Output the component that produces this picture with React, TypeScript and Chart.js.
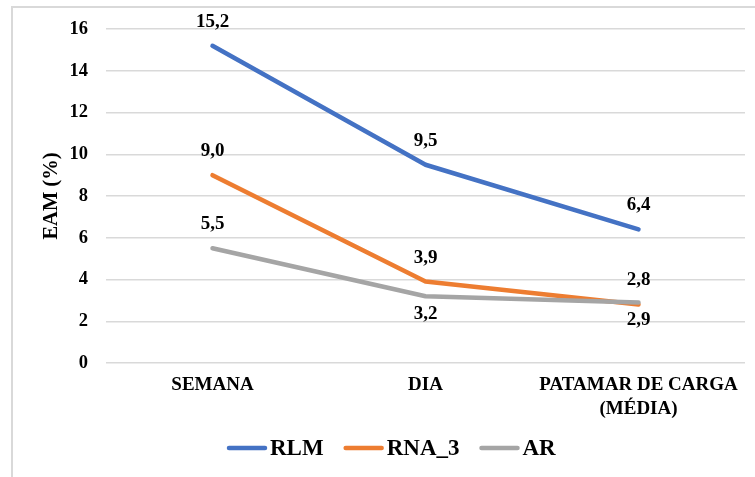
import React, { useEffect, useRef } from "react";
import { Chart, registerables } from "chart.js";

Chart.register(...registerables);

const categories: (string | string[])[] = ["SEMANA", "DIA", ["PATAMAR DE CARGA", "(MÉDIA)"]];
const seriesNames = ["RLM", "RNA_3", "AR"];
const rlm = [15.2, 9.5, 6.4];
const rna3 = [9.0, 3.9, 2.8];
const ar = [5.5, 3.2, 2.9];
const colors = ["#4472C4", "#ED7D31", "#A5A5A5"];
// label placement per point: "above" or "below"
const labelPos = [
  ["above", "above", "above"],
  ["above", "above", "above"],
  ["above", "below", "below"],
];
const yTitle = "EAM (%)";
const FONT = '"Liberation Serif", "Times New Roman", serif';

const fmt = (v: number) => v.toFixed(1).replace(".", ",");

const decorPlugin = {
  id: "decor",
  beforeDraw(chart: any) {
    const ctx = chart.ctx;
    ctx.save();
    ctx.fillStyle = "#ffffff";
    ctx.fillRect(0, 0, chart.width, chart.height);
    ctx.strokeStyle = "#d9d9d9";
    ctx.lineWidth = 2;
    ctx.strokeRect(12, 7, chart.width + 50, chart.height + 50);
    ctx.restore();
  },
  afterDatasetsDraw(chart: any) {
    const ctx = chart.ctx;
    ctx.save();
    ctx.font = `bold 19px ${FONT}`;
    ctx.fillStyle = "#000000";
    ctx.textAlign = "center";
    ctx.textBaseline = "middle";
    chart.data.datasets.forEach((ds: any, di: number) => {
      const meta = chart.getDatasetMeta(di);
      meta.data.forEach((pt: any, i: number) => {
        const pos = labelPos[di][i];
        const dy = pos === "above" ? -24 : 18;
        ctx.fillText(fmt(ds.data[i]), pt.x, pt.y + dy);
      });
    });
    ctx.restore();
  },
  afterDraw(chart: any) {
    const ctx = chart.ctx;
    ctx.save();
    ctx.font = `bold 23px ${FONT}`;
    ctx.textBaseline = "middle";
    ctx.textAlign = "left";
    const lineW = 40;
    const gapLT = 3;
    const gapItems = 20;
    const widths = seriesNames.map((n) => ctx.measureText(n).width);
    let x = 227;
    const y = 448;
    seriesNames.forEach((n, i) => {
      ctx.strokeStyle = colors[i];
      ctx.lineWidth = 4.5;
      ctx.lineCap = "round";
      ctx.beginPath();
      ctx.moveTo(x + 2, y);
      ctx.lineTo(x + lineW - 2, y);
      ctx.stroke();
      x += lineW + gapLT;
      ctx.fillStyle = "#000000";
      ctx.fillText(n, x, y + 1);
      x += widths[i] + gapItems;
    });
    ctx.restore();
  },
};

export default function App() {
  const ref = useRef<HTMLCanvasElement | null>(null);
  useEffect(() => {
    if (!ref.current) return;
    const series = [rlm, rna3, ar];
    const chart = new Chart(ref.current, {
      type: "line",
      data: {
        labels: categories,
        datasets: series.map((d, i) => ({
          label: seriesNames[i],
          data: d,
          borderColor: colors[i],
          backgroundColor: colors[i],
          borderWidth: 4.5,
          borderCapStyle: "round",
          borderJoinStyle: "round",
          pointRadius: 0,
          tension: 0,
          fill: false,
          order: 2 - i,
        })),
      },
      options: {
        responsive: false,
        animation: false,
        devicePixelRatio: 1,
        layout: { padding: { left: 0, top: 28.5, right: 10, bottom: 0 } },
        plugins: {
          legend: { display: false },
          tooltip: { enabled: false },
        },
        scales: {
          x: {
            type: "category",
            offset: true,
            grid: { display: false, drawTicks: false },
            border: { display: false },
            ticks: {
              color: "#000000",
              font: { family: FONT, size: 19, weight: "bold", lineHeight: 1.25 },
              padding: 10,
              maxRotation: 0,
              autoSkip: false,
            },
            afterFit(scale: any) {
              scale.height = 114;
            },
          },
          y: {
            min: 0,
            max: 16,
            ticks: {
              stepSize: 2,
              color: "#000000",
              font: { family: FONT, size: 18.5, weight: "bold" },
              padding: 18,
            },
            grid: { color: "#d9d9d9", lineWidth: 1.5, drawTicks: false },
            border: { display: false },
            title: {
              display: true,
              text: yTitle,
              color: "#000000",
              font: { family: FONT, size: 20.5, weight: "bold" },
              padding: { top: 39, bottom: 0 },
            },
            afterFit(scale: any) {
              scale.width = 106;
            },
          },
        },
      },
      plugins: [decorPlugin],
    } as any);
    return () => chart.destroy();
  }, []);
  return (
    <div style={{ position: "fixed", left: 0, top: 0, width: 755, height: 477, background: "#fff" }}>
      <canvas ref={ref} width={755} height={477} style={{ display: "block" }} />
    </div>
  );
}
